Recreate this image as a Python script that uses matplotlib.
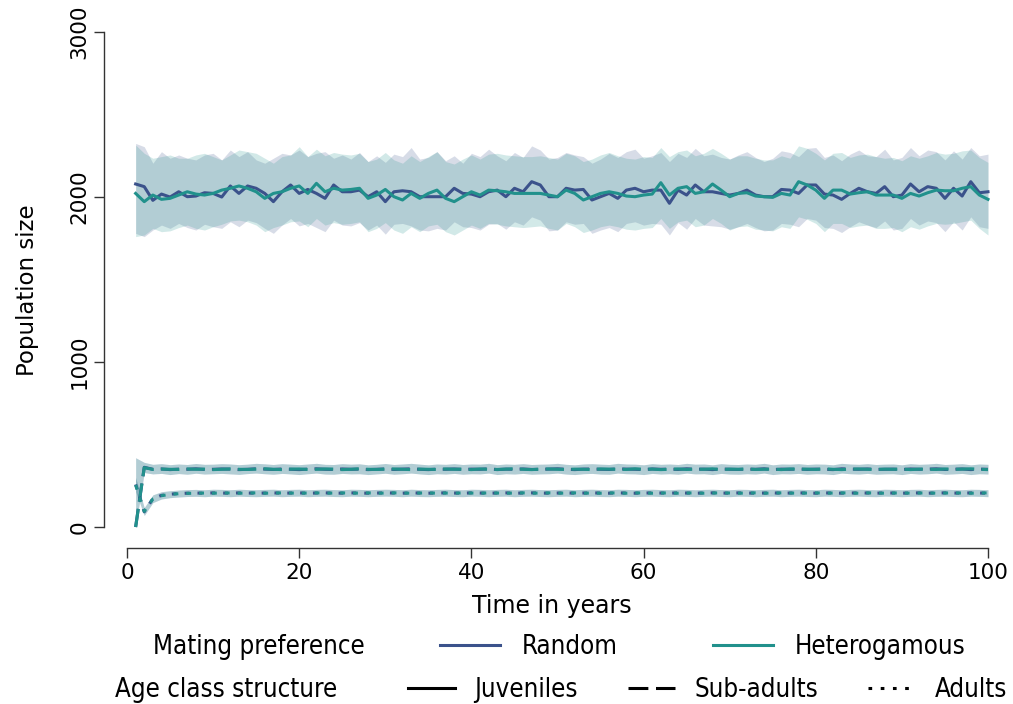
import matplotlib
matplotlib.use("Agg")
import matplotlib.pyplot as plt
from matplotlib.lines import Line2D
import numpy as np

# ---- data ----
years = list(range(1, 101))

juv_random = [2079, 2063, 1980, 2018, 2000, 2032, 2002, 2006, 2026, 2022,
              2000, 2067, 2022, 2067, 2053, 2022, 1972, 2032, 2073, 2022,
              2046, 2022, 1992, 2073, 2032, 2032, 2042, 2002, 2032, 1972,
              2032, 2038, 2032, 2002, 2002, 2002, 2002, 2053, 2022, 2018,
              2002, 2032, 2042, 2002, 2053, 2032, 2093, 2073, 2002, 2002,
              2053, 2042, 2046, 1982, 2002, 2022, 1992, 2042, 2053, 2032,
              2042, 2042, 1962, 2042, 2012, 2073, 2032, 2032, 2022, 2012,
              2022, 2042, 2012, 2002, 2002, 2046, 2042, 2022, 2073, 2073,
              2018, 2012, 1986, 2022, 2053, 2032, 2022, 2063, 2002, 2012,
              2079, 2032, 2063, 2053, 1992, 2053, 2006, 2093, 2026, 2032]

juv_hetero = [2022, 1972, 2012, 1986, 1992, 2012, 2032, 2018, 2012, 2022,
              2042, 2053, 2067, 2053, 2032, 1992, 2022, 2032, 2053, 2067,
              2022, 2083, 2032, 2053, 2042, 2046, 2053, 1992, 2012, 2046,
              2002, 1982, 2022, 1992, 2022, 2042, 1992, 1972, 2002, 2032,
              2012, 2042, 2038, 2032, 2022, 2022, 2022, 2022, 2012, 2002,
              2042, 2022, 1982, 2002, 2022, 2032, 2022, 2006, 2002, 2012,
              2018, 2087, 2012, 2053, 2063, 2022, 2032, 2079, 2042, 2002,
              2022, 2026, 2006, 2002, 1998, 2022, 2012, 2093, 2073, 2042,
              1992, 2042, 2042, 2018, 2026, 2032, 2012, 2012, 2012, 1992,
              2022, 2006, 2026, 2042, 2038, 2038, 2053, 2063, 2012, 1986]

juv_random_hi = [2325, 2305, 2205, 2275, 2235, 2255, 2235, 2225, 2255, 2265,
                 2225, 2285, 2245, 2275, 2225, 2205, 2235, 2265, 2255, 2285,
                 2245, 2265, 2275, 2235, 2255, 2230, 2270, 2215, 2250, 2210,
                 2260, 2245, 2300, 2230, 2240, 2275, 2220, 2250, 2205, 2265,
                 2245, 2290, 2250, 2220, 2270, 2240, 2310, 2285, 2230, 2240,
                 2270, 2255, 2245, 2205, 2230, 2265, 2240, 2275, 2290, 2235,
                 2250, 2270, 2215, 2265, 2240, 2295, 2250, 2260, 2240, 2230,
                 2255, 2275, 2240, 2215, 2235, 2280, 2270, 2245, 2295, 2300,
                 2240, 2255, 2220, 2260, 2285, 2250, 2245, 2290, 2225, 2240,
                 2300, 2250, 2285, 2275, 2225, 2280, 2230, 2300, 2250, 2260]

juv_random_lo = [1780, 1760, 1800, 1830, 1810, 1840, 1815, 1800, 1835, 1820,
                 1810, 1850, 1820, 1860, 1845, 1810, 1780, 1830, 1870, 1825,
                 1840, 1815, 1790, 1860, 1830, 1825, 1845, 1800, 1830, 1775,
                 1835, 1840, 1825, 1800, 1795, 1810, 1800, 1850, 1820, 1815,
                 1800, 1835, 1840, 1805, 1850, 1830, 1880, 1860, 1795, 1800,
                 1850, 1835, 1840, 1780, 1800, 1815, 1790, 1840, 1850, 1830,
                 1840, 1835, 1770, 1845, 1805, 1870, 1830, 1825, 1820, 1805,
                 1820, 1840, 1815, 1795, 1800, 1840, 1835, 1820, 1870, 1860,
                 1815, 1810, 1785, 1820, 1850, 1830, 1815, 1855, 1800, 1810,
                 1870, 1830, 1855, 1845, 1790, 1850, 1800, 1880, 1820, 1810]

juv_hetero_hi = [2315, 2265, 2235, 2245, 2255, 2235, 2235, 2255, 2265, 2245,
                 2225, 2255, 2285, 2275, 2265, 2235, 2205, 2245, 2255, 2305,
                 2245, 2290, 2250, 2270, 2260, 2255, 2265, 2215, 2230, 2270,
                 2225, 2205, 2250, 2215, 2245, 2275, 2215, 2200, 2230, 2255,
                 2230, 2260, 2265, 2255, 2250, 2245, 2245, 2250, 2240, 2230,
                 2265, 2250, 2215, 2230, 2255, 2270, 2250, 2235, 2230, 2245,
                 2240, 2300, 2245, 2275, 2285, 2250, 2265, 2295, 2265, 2230,
                 2250, 2250, 2235, 2225, 2225, 2250, 2235, 2310, 2295, 2265,
                 2225, 2265, 2270, 2240, 2255, 2260, 2245, 2235, 2240, 2220,
                 2250, 2235, 2250, 2270, 2260, 2265, 2280, 2285, 2240, 2210]

juv_hetero_lo = [1760, 1770, 1810, 1790, 1795, 1815, 1830, 1810, 1800, 1820,
                 1835, 1855, 1860, 1850, 1830, 1790, 1815, 1830, 1850, 1855,
                 1820, 1870, 1830, 1845, 1835, 1840, 1850, 1790, 1810, 1845,
                 1800, 1780, 1820, 1790, 1825, 1835, 1790, 1770, 1800, 1830,
                 1810, 1840, 1835, 1825, 1820, 1815, 1820, 1825, 1810, 1800,
                 1840, 1820, 1785, 1800, 1820, 1830, 1820, 1805, 1800, 1810,
                 1815, 1870, 1810, 1850, 1860, 1820, 1830, 1870, 1840, 1800,
                 1820, 1825, 1805, 1800, 1795, 1820, 1810, 1880, 1865, 1840,
                 1790, 1840, 1840, 1815, 1825, 1830, 1810, 1810, 1815, 1790,
                 1820, 1805, 1825, 1840, 1835, 1840, 1850, 1860, 1810, 1770]

sub_random = [0, 362, 350, 352, 348, 351, 350, 353, 349, 350,
              352, 351, 348, 350, 353, 351, 349, 352, 350, 348,
              351, 353, 350, 349, 352, 350, 351, 348, 350, 352,
              349, 351, 353, 350, 348, 351, 350, 352, 349, 351,
              350, 353, 348, 351, 350, 352, 349, 350, 351, 353,
              350, 348, 351, 352, 350, 349, 353, 351, 350, 348,
              352, 350, 351, 349, 353, 350, 351, 348, 352, 350,
              349, 351, 350, 353, 348, 351, 350, 352, 349, 351,
              350, 348, 353, 351, 350, 352, 349, 350, 351, 348,
              352, 350, 351, 353, 349, 350, 352, 348, 351, 350]

sub_hetero = [0, 360, 349, 351, 350, 349, 352, 350, 351, 348,
              350, 352, 350, 349, 351, 353, 350, 348, 351, 352,
              349, 350, 352, 351, 348, 350, 353, 350, 349, 351,
              352, 350, 348, 351, 350, 349, 352, 350, 351, 348,
              352, 350, 349, 351, 353, 350, 348, 351, 352, 350,
              349, 351, 350, 348, 352, 351, 350, 349, 353, 350,
              351, 348, 350, 352, 349, 351, 350, 353, 348, 351,
              350, 352, 349, 350, 351, 348, 352, 350, 351, 349,
              353, 350, 348, 351, 352, 350, 349, 351, 350, 352,
              348, 351, 350, 349, 352, 350, 351, 353, 350, 348]

sub_lo = [0, 330, 322, 325, 318, 324, 320, 326, 321, 323,
          325, 322, 319, 324, 327, 323, 320, 325, 322, 318,
          323, 327, 321, 320, 325, 322, 323, 318, 322, 326,
          320, 323, 327, 322, 318, 323, 321, 325, 320, 323,
          322, 327, 318, 323, 321, 325, 320, 322, 323, 327,
          321, 318, 323, 325, 321, 320, 327, 323, 322, 318,
          325, 321, 323, 320, 327, 322, 323, 318, 325, 321,
          320, 323, 321, 327, 318, 323, 322, 325, 320, 323,
          322, 318, 327, 323, 321, 325, 320, 322, 323, 318,
          325, 321, 323, 327, 320, 322, 325, 318, 323, 321]

sub_hi = [420, 392, 380, 384, 378, 382, 379, 385, 380, 381,
          384, 382, 378, 381, 386, 383, 379, 384, 381, 378,
          382, 386, 380, 379, 384, 381, 383, 377, 380, 385,
          379, 382, 386, 381, 377, 382, 380, 384, 379, 382,
          381, 386, 378, 382, 380, 384, 379, 381, 382, 386,
          380, 377, 382, 384, 381, 379, 386, 382, 381, 377,
          384, 380, 382, 379, 386, 381, 382, 377, 384, 380,
          379, 382, 380, 386, 377, 382, 381, 384, 379, 382,
          381, 377, 386, 382, 380, 384, 379, 381, 382, 377,
          384, 380, 382, 386, 379, 381, 384, 377, 382, 380]

ad_random = [258, 92, 172, 192, 199, 203, 205, 206, 205, 207,
             206, 205, 207, 206, 205, 206, 207, 205, 206, 207,
             205, 206, 207, 206, 205, 207, 206, 205, 206, 207,
             206, 205, 207, 206, 205, 206, 207, 206, 205, 207,
             206, 205, 206, 207, 205, 206, 207, 206, 205, 206,
             207, 205, 206, 207, 206, 205, 207, 206, 205, 206,
             207, 206, 205, 207, 206, 205, 206, 207, 206, 205,
             207, 206, 205, 206, 207, 205, 206, 207, 206, 205,
             207, 206, 205, 206, 207, 206, 205, 207, 206, 205,
             206, 207, 205, 206, 207, 206, 205, 207, 206, 205]

ad_hetero = [255, 95, 170, 190, 198, 202, 204, 205, 206, 205,
             207, 206, 205, 206, 207, 205, 206, 207, 206, 205,
             206, 207, 205, 206, 207, 205, 206, 207, 205, 206,
             207, 206, 205, 206, 207, 205, 206, 205, 207, 206,
             205, 207, 206, 205, 206, 207, 205, 206, 207, 205,
             206, 207, 205, 206, 205, 207, 206, 205, 207, 206,
             205, 206, 207, 205, 206, 207, 205, 206, 207, 206,
             205, 206, 207, 205, 206, 207, 206, 205, 206, 207,
             205, 206, 207, 206, 205, 207, 206, 205, 206, 207,
             205, 206, 207, 205, 206, 207, 206, 205, 206, 207]

ad_lo = [215, 70, 148, 170, 178, 182, 185, 186, 184, 187,
         186, 184, 187, 185, 184, 186, 187, 184, 186, 187,
         184, 186, 187, 185, 184, 187, 186, 184, 186, 187,
         186, 184, 187, 185, 184, 186, 187, 185, 184, 187,
         186, 184, 186, 187, 184, 186, 187, 185, 184, 186,
         187, 184, 186, 187, 185, 184, 187, 186, 184, 186,
         187, 185, 184, 187, 186, 184, 186, 187, 185, 184,
         187, 186, 184, 186, 187, 184, 186, 187, 185, 184,
         187, 186, 184, 186, 187, 185, 184, 187, 186, 184,
         186, 187, 184, 186, 187, 185, 184, 187, 186, 184]

ad_hi = [300, 118, 195, 214, 220, 224, 227, 228, 226, 229,
         228, 226, 229, 227, 226, 228, 229, 226, 228, 229,
         226, 228, 229, 227, 226, 229, 228, 226, 228, 229,
         228, 226, 229, 227, 226, 228, 229, 227, 226, 229,
         228, 226, 228, 229, 226, 228, 229, 227, 226, 228,
         229, 226, 228, 229, 227, 226, 229, 228, 226, 228,
         229, 227, 226, 229, 228, 226, 228, 229, 227, 226,
         229, 228, 226, 228, 229, 226, 228, 229, 227, 226,
         229, 228, 226, 228, 229, 227, 226, 229, 228, 226,
         228, 229, 226, 228, 229, 227, 226, 229, 228, 226]

c_random = "#3b528b"
c_hetero = "#21918c"
grey = "#333333"

plt.rcParams["font.family"] = ["DejaVu Sans"]

fig = plt.figure(figsize=(10.13, 7.04), dpi=100)
ax = fig.add_axes([0.1027, 0.2216, 0.8845, 0.7329])

# bands
ax.fill_between(years, juv_random_lo, juv_random_hi, color=c_random, alpha=0.2, lw=0)
ax.fill_between(years, juv_hetero_lo, juv_hetero_hi, color=c_hetero, alpha=0.2, lw=0)
ax.fill_between(years, sub_lo, sub_hi, color=c_random, alpha=0.2, lw=0)
ax.fill_between(years, sub_lo, sub_hi, color=c_hetero, alpha=0.2, lw=0)
ax.fill_between(years, ad_lo, ad_hi, color=c_random, alpha=0.2, lw=0)
ax.fill_between(years, ad_lo, ad_hi, color=c_hetero, alpha=0.2, lw=0)

lw = 2.2
dash = (0, (6, 2.4))
dots = (0, (1.6, 2.6))
ax.plot(years, juv_random, color=c_random, lw=lw, ls="-")
ax.plot(years, juv_hetero, color=c_hetero, lw=lw, ls="-")
ax.plot(years, sub_random, color=c_random, lw=lw, ls=dash)
ax.plot(years, sub_hetero, color=c_hetero, lw=lw, ls=dash)
ax.plot(years, ad_random, color=c_random, lw=lw, ls=dots)
ax.plot(years, ad_hetero, color=c_hetero, lw=lw, ls=dots)

ax.set_xlim(-2.67, 101.4)
ax.set_ylim(-127, 3000)
ax.set_xticks([0, 20, 40, 60, 80, 100])
ax.set_yticks([0, 1000, 2000, 3000])
for s in ["top", "right"]:
    ax.spines[s].set_visible(False)
ax.spines["left"].set_bounds(0, 3000)
ax.spines["bottom"].set_bounds(0, 100)
for s in ["left", "bottom"]:
    ax.spines[s].set_color(grey)
    ax.spines[s].set_linewidth(1.0)
ax.tick_params(colors=grey, labelcolor="black", length=7, width=1.0, labelsize=15.5)
plt.setp(ax.get_yticklabels(), rotation=90, va="center")
ax.set_xlabel("Time in years", fontsize=17, labelpad=8)
ax.set_ylabel("Population size", fontsize=16.5, labelpad=22)

# legends
lf = dict(family="DejaVu Sans", stretch="condensed", size=18.5)
fig.text(153 / 1013, 1 - 647 / 704, "Mating preference", va="center", ha="left", **lf)
fig.text(115 / 1013, 1 - 690 / 704, "Age class structure", va="center", ha="left", **lf)

h1 = [Line2D([], [], color=c_random, lw=2.2), Line2D([], [], color=c_hetero, lw=2.2)]
leg1 = fig.legend(h1, ["Random", "Heterogamous"], ncol=2, loc="center left",
                  bbox_to_anchor=(440 / 1013, 1 - 647 / 704), frameon=False,
                  borderpad=0, borderaxespad=0, handlelength=2.33, handletextpad=0.86,
                  columnspacing=3.7, prop=lf)
h2 = [Line2D([], [], color="black", lw=2.2, ls="-"),
      Line2D([], [], color="black", lw=2.2, ls=(0, (6.5, 2.5))),
      Line2D([], [], color="black", lw=2.2, ls=(0, (1.2, 2.8)))]
leg2 = fig.legend(h2, ["Juveniles", "Sub-adults", "Adults"], ncol=3, loc="center left",
                  bbox_to_anchor=(408 / 1013, 1 - 690 / 704), frameon=False,
                  borderpad=0, borderaxespad=0, handlelength=1.83, handletextpad=0.75,
                  columnspacing=1.95, prop=lf)

fig.savefig("out.png", dpi=100)
